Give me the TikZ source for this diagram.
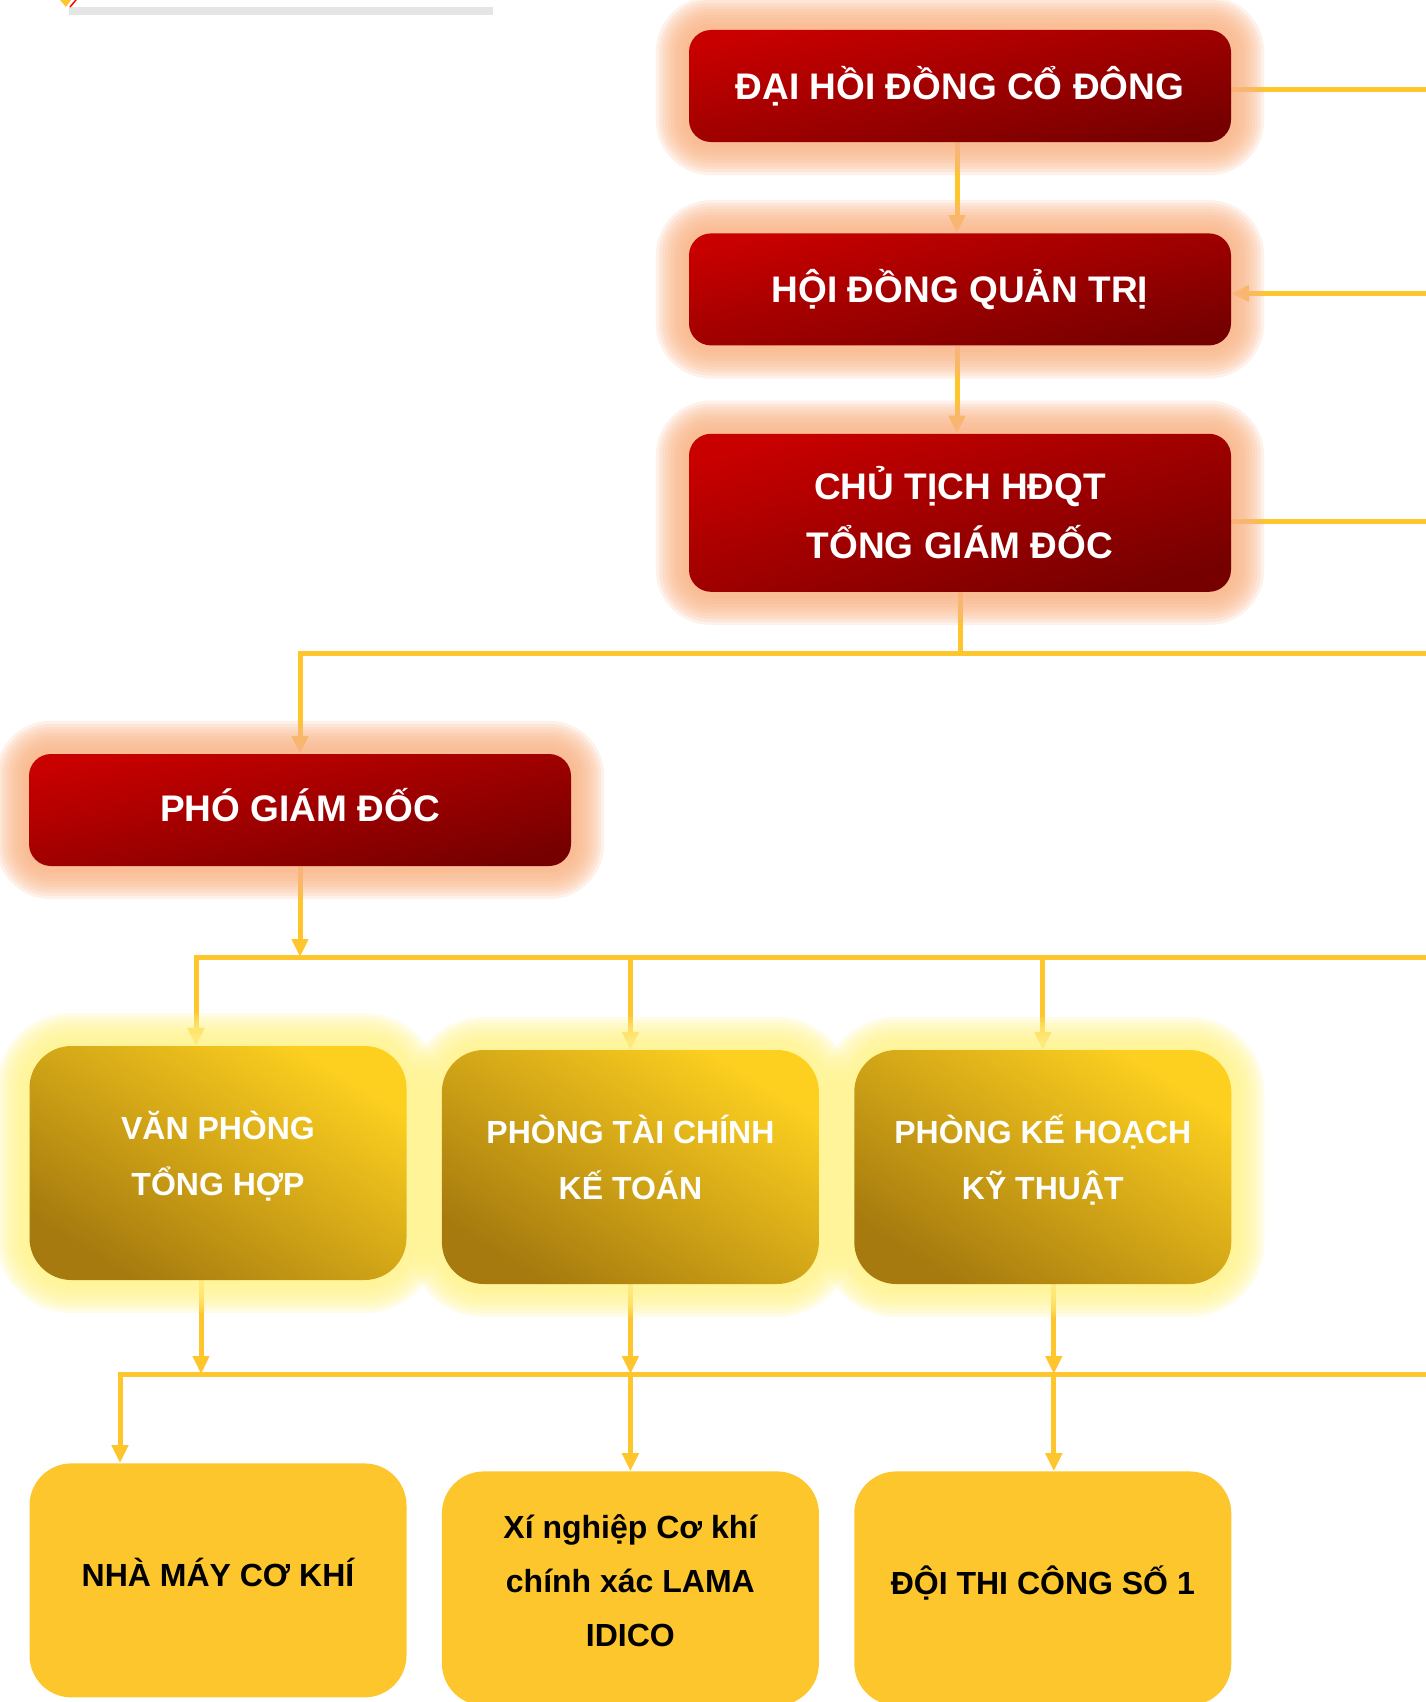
\documentclass[tikz,border=0pt]{standalone}
\usepackage{fontspec}
\setmainfont{Liberation Sans}
\usepackage{xcolor}
\usetikzlibrary{arrows.meta,positioning,calc,backgrounds}

\definecolor{redtop}{HTML}{C80000}
\definecolor{redbot}{HTML}{760000}
\definecolor{goldtop}{HTML}{FDD020}
\definecolor{goldbot}{HTML}{A67A0E}
\definecolor{unitfill}{HTML}{FEC62D}
\definecolor{linecol}{HTML}{FEC52C}
\definecolor{redglow}{HTML}{F9B487}
\definecolor{goldglow}{HTML}{FFF38C}

% soft halo behind a box: node name, colour, corner radius
\newcommand{\glowbox}[3]{%
  \foreach \g [evaluate=\g as \r using #3+\g] in {3,6,...,33}
    \fill[#2, opacity=0.18, rounded corners=\r pt]
      ($(#1.north west)+(-\g,-\g)$) rectangle ($(#1.south east)+(\g,\g)$);
}

\begin{document}
\begin{tikzpicture}[
  x=1pt, y=-1pt,
  >={Triangle[width=16pt,length=18pt]},
  node distance=90pt and 35pt,
  redbox/.style={rounded corners=22pt, minimum width=542pt, minimum height=112pt, inner sep=0pt, align=center, text=white, font=\fontsize{37}{59}\selectfont\bfseries, top color=redtop, bottom color=redbot, shading angle=12},
  goldbox/.style={rounded corners=42pt, minimum width=377pt, minimum height=234pt, inner sep=0pt, align=center, text=white, font=\fontsize{32}{56}\selectfont\bfseries, top color=goldtop, bottom color=goldbot, shading angle=-32, execute at end node={\rule[-20pt]{0pt}{0pt}}},
  unitbox/.style={rounded corners=42pt, minimum width=377pt, minimum height=234pt, inner sep=0pt, align=center, fill=unitfill, font=\fontsize{32}{54}\selectfont\bfseries, execute at end node={\rule[-16pt]{0pt}{0pt}}},
  conn/.style={draw=linecol, line width=5pt}
]
\useasboundingbox (0,0) rectangle (1425,1702);

\node[redbox] (dhcd) at (960,86) {ĐẠI HỒI ĐỒNG CỔ ĐÔNG};
\node[redbox, below=91pt of dhcd] (hdqt) {HỘI ĐỒNG QUẢN TRỊ};
\node[redbox, minimum height=158pt, shading angle=16, below=88pt of hdqt] (ctgd) {CHỦ TỊCH HĐQT\\TỔNG GIÁM ĐỐC};
\node[redbox, execute at end node={\rule[-11pt]{0pt}{0pt}}] (pgd) at (300,810) {PHÓ GIÁM ĐỐC};

\node[goldbox] (vpth) at (218,1163) {VĂN PHÒNG\\TỔNG HỢP};
\node[goldbox, right=35pt of vpth, yshift=-4pt] (ptckt) {PHÒNG TÀI CHÍNH\\KẾ TOÁN};
\node[goldbox, right=35pt of ptckt] (pkhkt) {PHÒNG KẾ HOẠCH\\KỸ THUẬT};

\node[unitbox, below=183pt of vpth] (nmck) {NHÀ MÁY CƠ KHÍ};
\node[unitbox, below=187pt of ptckt] (xnck) {Xí nghiệp Cơ khí\\chính xác LAMA\\IDICO};
\node[unitbox, below=187pt of pkhkt] (dtc1) {ĐỘI THI CÔNG SỐ 1};

\coordinate (edge) at (1430,0);
\coordinate (bus1) at (300,653);
\coordinate (bus2) at (196,957);
\coordinate (bus3) at (120,1374);

\begin{scope}[on background layer]
\draw[conn] ([yshift=-3pt]dhcd.east) -- ([yshift=-3pt]dhcd.east -| edge);
\draw[conn,->] ([yshift=-4pt]hdqt.east -| edge) -- ([yshift=-4pt]hdqt.east);
\draw[conn] ([yshift=-9pt]ctgd.east) -- ([yshift=-9pt]ctgd.east -| edge);
\draw[conn,->] ([xshift=-3pt]dhcd.south) -- ([xshift=-3pt]hdqt.north);
\draw[conn,->] ([xshift=-3pt]hdqt.south) -- ([xshift=-3pt]ctgd.north);
\draw[conn] (ctgd.south) -- (ctgd.south |- bus1);
\draw[conn,->] (bus1 -| edge) -- (bus1) -- (pgd.north);
\draw[conn,->] (pgd.south) -- (pgd.south |- bus2);
\draw[conn,->] (bus2 -| edge) -- (bus2) -- (bus2 |- vpth.north);
\draw[conn,->] (ptckt.north |- bus2) -- (ptckt.north);
\draw[conn,->] (pkhkt.north |- bus2) -- (pkhkt.north);
\draw[conn,->] ([xshift=-17pt]vpth.south) -- ([xshift=-17pt]vpth.south |- bus3);
\draw[conn,->] (ptckt.south) -- (ptckt.south |- bus3);
\draw[conn,->] ([xshift=11pt]pkhkt.south) -- ([xshift=11pt]pkhkt.south |- bus3);
\draw[conn,->] (bus3 -| edge) -- (bus3) -- (bus3 |- nmck.north);
\draw[conn,->] (ptckt.south |- bus3) -- (xnck.north);
\draw[conn,->] ([xshift=11pt]pkhkt.south |- bus3) -- ([xshift=11pt]dtc1.north);

\foreach \n in {dhcd,hdqt,ctgd,pgd} {\glowbox{\n}{redglow}{22}}
\foreach \n in {vpth,ptckt,pkhkt} {\glowbox{\n}{goldglow}{42}}
\end{scope}

% logo corner and rule at the top
\fill[gray!20] (69,7) rectangle (493,15);
\fill[unitfill] (60,0) -- (71,0) -- (66,7) -- cycle;
\draw[red, line width=1.5pt] (76,0) -- (70,7);
\end{tikzpicture}
\end{document}
